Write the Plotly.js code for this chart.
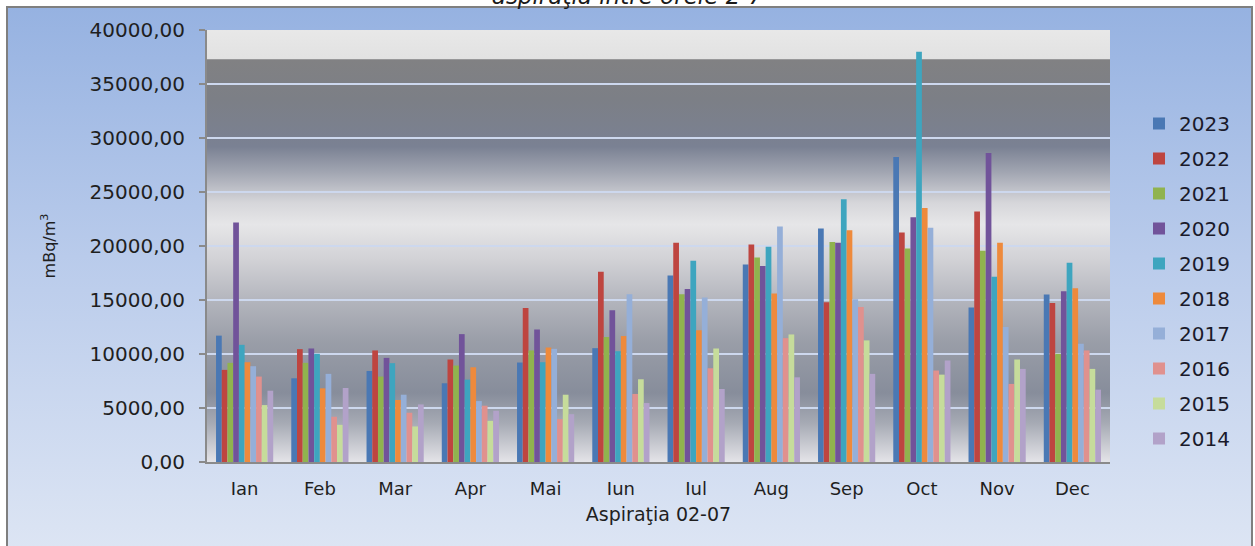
<!DOCTYPE html>
<html>
<head>
<meta charset="utf-8">
<script src="https://cdn.plot.ly/plotly-3.0.1.min.js"></script>
<style>
  html, body { margin: 0; padding: 0; background: #ffffff; }
  #chart { width: 1255px; height: 546px; }
</style>
</head>
<body>
<div id="chart"></div>
<script>
// ---- Data ----
const months = ["Ian", "Feb", "Mar", "Apr", "Mai", "Iun", "Iul", "Aug", "Sep", "Oct", "Nov", "Dec"];
const years = ["2023", "2022", "2021", "2020", "2019", "2018", "2017", "2016", "2015", "2014"];

const v2023 = [11700, 7750, 8430, 7290, 9210, 10540, 17270, 18290, 21610, 28250, 14300, 15500];
const v2022 = [8530, 10450, 10330, 9490, 14260, 17610, 20310, 20150, 14790, 21240, 23190, 14730];
const v2021 = [9180, 9180, 7910, 8930, 10330, 11570, 15530, 18940, 20370, 19780, 19560, 10020];
const v2020 = [22170, 10510, 9640, 11840, 12280, 14050, 16030, 18140, 20310, 22670, 28620, 15810];
const v2019 = [10850, 10020, 9150, 7630, 9240, 10260, 18630, 19940, 24340, 37980, 17150, 18450];
const v2018 = [9240, 6820, 5740, 8770, 10600, 11660, 12190, 15600, 21450, 23530, 20310, 16090];
const v2017 = [8870, 8160, 6230, 5640, 10480, 15530, 15220, 21800, 15070, 21700, 12490, 10950];
const v2016 = [7910, 4190, 4560, 5210, 3970, 6300, 8680, 11470, 14360, 8470, 7230, 10330];
const v2015 = [5270, 3440, 3290, 3810, 6230, 7660, 10510, 11810, 11260, 8090, 9490, 8620];
const v2014 = [6600, 6850, 5330, 4740, 4430, 5460, 6760, 7840, 8160, 9400, 8620, 6700];

const seriesValues = [v2023, v2022, v2021, v2020, v2019, v2018, v2017, v2016, v2015, v2014];

const titleText = "aspiraţia între orele 2-7";
const xTitle = "Aspiraţia 02-07";
const yTitle = "mBq/m<sup>3</sup>";

// ---- Styles ----
const colors = ["#4a78b4", "#be4540", "#90b34e", "#71539a", "#3ea5bf", "#ee8a3c",
                "#95afd8", "#e0918e", "#c6dc9b", "#b2a2c9"];

const traces = years.map((yr, i) => ({
  type: "bar",
  name: yr,
  x: months,
  y: seriesValues[i],
  marker: { color: colors[i], line: { width: 0 } },
  legendgroup: "g" + yr,
  hoverinfo: "x+y+name"
}));

function svgURI(svg) {
  return "data:image/svg+xml;charset=utf-8," + encodeURIComponent(svg);
}

const frameSvg = "<svg xmlns='http://www.w3.org/2000/svg' width='100' height='100' preserveAspectRatio='none'>" +
  "<defs><linearGradient id='g' x1='0' y1='0' x2='0' y2='1'>" +
  "<stop offset='0' stop-color='#96b2e1'/>" +
  "<stop offset='0.45' stop-color='#b9cbeb'/>" +
  "<stop offset='1' stop-color='#dee6f4'/>" +
  "</linearGradient></defs><rect width='100' height='100' fill='url(#g)'/></svg>";

const plotSvg = "<svg xmlns='http://www.w3.org/2000/svg' width='100' height='100' preserveAspectRatio='none'>" +
  "<defs><linearGradient id='p' x1='0' y1='0' x2='0' y2='1'>" +
  "<stop offset='0' stop-color='#e8e8e8'/>" +
  "<stop offset='0.066' stop-color='#e2e2e2'/>" +
  "<stop offset='0.069' stop-color='#818183'/>" +
  "<stop offset='0.16' stop-color='#7c7f86'/>" +
  "<stop offset='0.27' stop-color='#7a8193'/>" +
  "<stop offset='0.33' stop-color='#a2a6b2'/>" +
  "<stop offset='0.40' stop-color='#d6d6da'/>" +
  "<stop offset='0.45' stop-color='#e6e6e8'/>" +
  "<stop offset='0.53' stop-color='#d2d2d6'/>" +
  "<stop offset='0.63' stop-color='#b2b4bc'/>" +
  "<stop offset='0.72' stop-color='#9a9ea8'/>" +
  "<stop offset='0.84' stop-color='#878d9b'/>" +
  "<stop offset='0.91' stop-color='#a6aab4'/>" +
  "<stop offset='1' stop-color='#e4e4e8'/>" +
  "</linearGradient></defs><rect width='100' height='100' fill='url(#p)'/></svg>";

const W = 1255, H = 546;
const mL = 207, mR = 145, mT = 30, mB = 84;
const pw = W - mL - mR, ph = H - mT - mB;
const px = v => (v - mL) / pw;          // pixel x -> paper x
const py = v => (H - mB - v) / ph;       // pixel y -> paper y

const layout = {
  width: W,
  height: H,
  margin: { l: mL, r: mR, t: mT, b: mB, pad: 0 },
  paper_bgcolor: "#ffffff",
  plot_bgcolor: "rgba(0,0,0,0)",
  separators: ", ",
  barmode: "group",
  bargap: 0.24,
  bargroupgap: 0,
  title: {
    text: titleText,
    font: { family: "DejaVu Sans", size: 23, color: "#1a1a1a", style: "italic" },
    x: 0.5, xref: "container", xanchor: "center",
    y: (H - 4) / H, yref: "container", yanchor: "bottom"
  },
  font: { family: "DejaVu Sans", color: "#1f1f1f" },
  xaxis: {
    type: "category",
    showline: true, linecolor: "#8a8a8a", linewidth: 2,
    ticks: "", showgrid: false,
    tickfont: { family: "DejaVu Sans", size: 18, color: "#1f1f1f" },
    ticklabelstandoff: 9,
    automargin: false,
    title: { text: xTitle, font: { family: "DejaVu Sans", size: 19, color: "#1f1f1f" }, standoff: 10 }
  },
  yaxis: {
    range: [0, 40000],
    dtick: 5000,
    tickformat: ".2f",
    showline: true, linecolor: "#8a8a8a", linewidth: 2,
    ticks: "outside", ticklen: 6, tickcolor: "#8a8a8a", tickwidth: 1.5,
    ticklabelstandoff: 10,
    tickfont: { family: "DejaVu Sans", size: 20, color: "#1f1f1f" },
    showgrid: true, gridcolor: "#cdd8ee", gridwidth: 1.5,
    zeroline: false,
    automargin: false,
    title: { text: yTitle, font: { family: "DejaVu Sans", size: 16, color: "#1f1f1f" }, standoff: 30 }
  },
  legend: {
    x: px(1139), xanchor: "left",
    y: py(104), yanchor: "top",
    bgcolor: "rgba(0,0,0,0)",
    font: { family: "DejaVu Sans", size: 20, color: "#1a1a2a" },
    tracegroupgap: 6,
    traceorder: "grouped"
  },
  images: [
    {
      source: svgURI(frameSvg), xref: "paper", yref: "paper",
      x: px(8), y: py(8), sizex: (1252 - 8) / pw, sizey: (560 - 8) / ph,
      xanchor: "left", yanchor: "top", sizing: "stretch", layer: "below"
    },
    {
      source: svgURI(plotSvg), xref: "paper", yref: "paper",
      x: 0, y: 1, sizex: 1, sizey: 1,
      xanchor: "left", yanchor: "top", sizing: "stretch", layer: "below"
    }
  ],
  shapes: [
    {
      type: "rect", xref: "paper", yref: "paper", layer: "below",
      x0: px(7), x1: px(1252), y0: py(560), y1: py(7),
      line: { color: "#7f7f7f", width: 2 }, fillcolor: "rgba(0,0,0,0)"
    }
  ],
  showlegend: true
};

Plotly.newPlot("chart", traces, layout, { displayModeBar: false, responsive: false });
</script>
</body>
</html>
